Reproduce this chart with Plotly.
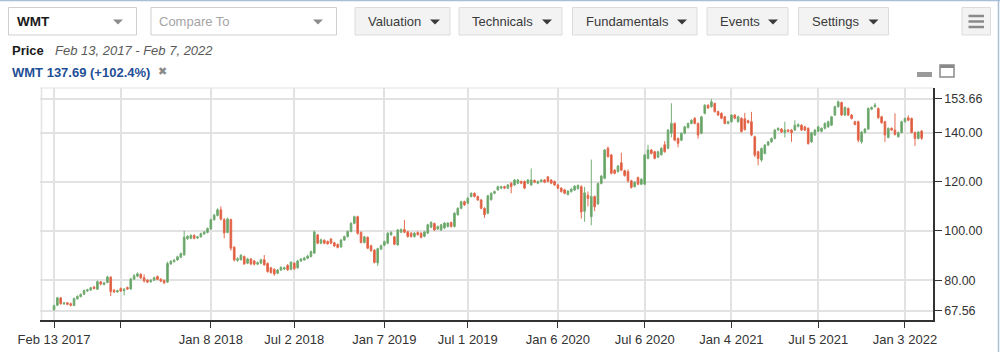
import pandas as pd
import plotly.graph_objects as go

# ---------------- data (weekly candles, WMT, Feb 13 2017 - Feb 7 2022) ----------------
start_week = "2017-02-13"
n_weeks = 261

open_ = [
 68.0, 69.8, 72.8, 70.4, 70.8, 70.4, 69.7, 72.4, 73.3, 74.3, 75.6, 76.0, 77.2, 76.3, 79.3, 78.2, 79.0, 81.2, 75.9, 75.2,
 76.6, 75.7, 77.0, 76.4, 80.4, 81.6, 82.4, 81.0, 80.0, 79.3, 80.0, 81.5, 80.4, 79.9, 79.2, 86.6, 87.5, 88.2, 89.3, 90.3,
 96.8, 97.0, 98.2, 97.1, 97.6, 98.8, 99.4, 100.8, 104.6, 106.3, 108.6, 104.6, 99.4, 104.6, 93.4, 88.0, 88.3, 89.6, 86.9, 88.6,
 87.8, 86.5, 86.9, 88.3, 86.8, 85.0, 84.4, 82.8, 84.1, 84.5, 86.0, 84.4, 86.9, 85.0, 87.8, 88.2, 88.9, 89.6, 91.0, 98.4,
 95.0, 96.2, 95.7, 96.7, 95.2, 94.5, 93.5, 96.3, 97.7, 99.8, 103.1, 105.8, 99.4, 95.3, 97.4, 94.0, 92.2, 87.0, 92.6, 94.2,
 95.0, 98.5, 97.6, 94.3, 99.5, 100.6, 99.7, 99.1, 97.7, 99.4, 99.1, 97.8, 99.1, 101.5, 103.0, 100.8, 100.4, 101.2, 101.8, 103.4,
 101.8, 106.6, 109.2, 111.9, 111.3, 114.0, 115.3, 114.0, 112.6, 109.2, 107.2, 112.7, 115.3, 116.7, 117.4, 118.0, 117.4, 119.4, 118.7, 119.4,
 120.1, 120.1, 119.4, 118.7, 120.5, 119.4, 120.1, 120.7, 122.0, 120.7, 120.1, 118.7, 117.4, 116.7, 114.8, 116.0, 116.6, 117.2, 118.0, 108.0,
 114.5, 105.8, 114.0, 111.0, 119.3, 121.4, 133.6, 130.9, 124.7, 124.1, 127.7, 124.5, 124.1, 120.4, 118.0, 121.7, 119.0, 119.0, 129.5, 132.9,
 132.2, 130.0, 131.0, 135.0, 133.6, 139.7, 143.7, 137.6, 136.9, 139.7, 142.0, 143.7, 145.8, 143.7, 139.7, 147.8, 151.1, 150.5, 151.8, 148.5,
 147.8, 146.4, 143.7, 144.4, 147.1, 144.4, 145.8, 145.6, 144.8, 144.4, 138.3, 132.2, 128.8, 131.5, 134.9, 136.2, 137.6, 141.0, 141.4, 139.9,
 141.0, 141.0, 141.0, 142.5, 143.0, 142.3, 141.7, 136.2, 139.0, 140.5, 140.5, 141.7, 142.3, 143.0, 147.1, 150.5, 152.2, 147.1, 149.8, 147.1,
 144.4, 144.4, 136.2, 140.0, 141.4, 149.5, 150.5, 149.8, 146.4, 144.4, 138.0, 141.7, 141.0, 138.3, 140.0, 144.4, 146.0, 145.7, 140.0, 137.6,
 140.6]

high = [
 70.0, 73.2, 73.0, 71.2, 71.1, 70.9, 72.9, 73.8, 74.6, 76.2, 76.5, 77.3, 77.6, 79.8, 79.6, 79.3, 81.8, 81.6, 76.4, 76.1,
 77.0, 76.8, 77.4, 80.9, 82.5, 83.2, 82.8, 82.3, 80.4, 80.4, 81.4, 81.9, 80.8, 80.2, 87.5, 88.1, 88.6, 89.9, 91.2, 100.1,
 98.3, 98.6, 98.6, 98.0, 99.3, 100.0, 101.4, 105.0, 107.0, 109.2, 109.98, 105.2, 105.4, 105.0, 93.8, 89.3, 90.6, 90.0, 89.1, 89.0,
 88.2, 87.6, 88.7, 90.2, 87.2, 85.4, 84.8, 84.6, 85.6, 85.5, 86.5, 87.7, 87.3, 88.2, 89.0, 89.5, 90.3, 92.0, 100.2, 98.8,
 96.9, 96.6, 96.1, 97.1, 95.6, 94.9, 96.8, 98.1, 100.2, 103.5, 106.2, 106.2, 99.8, 98.0, 97.8, 94.4, 92.6, 93.2, 94.5, 96.1,
 99.5, 99.9, 98.0, 100.8, 101.0, 104.5, 100.1, 99.5, 99.5, 99.8, 99.5, 100.0, 102.9, 103.9, 103.4, 102.2, 102.9, 103.6, 103.6, 103.8,
 107.6, 109.6, 112.3, 112.3, 113.7, 115.7, 115.7, 114.4, 113.0, 109.6, 114.7, 115.7, 116.4, 118.4, 118.4, 118.4, 119.1, 119.8, 121.1, 121.1,
 120.5, 120.5, 121.1, 125.4, 120.9, 120.5, 121.1, 121.1, 122.2, 121.1, 120.5, 119.1, 117.8, 117.1, 116.6, 117.4, 118.6, 118.9, 118.6, 117.9,
 116.0, 129.0, 114.4, 119.7, 122.7, 133.3, 134.3, 131.3, 125.1, 126.8, 131.8, 124.9, 125.0, 120.8, 120.2, 122.1, 121.4, 131.3, 135.0, 133.3,
 132.6, 132.6, 134.0, 136.5, 141.4, 151.9, 144.1, 138.0, 140.1, 142.7, 144.1, 145.4, 146.2, 144.1, 146.8, 151.5, 151.5, 153.66, 152.2, 148.9,
 148.2, 146.8, 144.8, 147.5, 147.5, 146.8, 146.2, 148.0, 145.2, 148.4, 138.7, 132.6, 133.9, 135.3, 136.6, 138.0, 141.4, 142.1, 141.8, 144.4,
 141.4, 141.4, 145.0, 143.7, 143.4, 142.7, 142.1, 140.3, 141.4, 142.7, 142.1, 144.1, 144.8, 146.8, 150.9, 153.0, 152.6, 150.6, 150.2, 147.5,
 144.8, 144.8, 140.6, 141.8, 150.2, 150.6, 152.0, 150.2, 146.8, 144.8, 142.1, 142.1, 147.8, 140.4, 144.8, 146.1, 147.0, 146.1, 140.4, 140.6,
 141.0]

low = [
 67.56, 69.4, 70.0, 69.9, 69.8, 69.3, 69.4, 72.1, 73.0, 74.0, 75.2, 75.6, 76.2, 76.0, 77.9, 77.9, 78.8, 73.5, 74.8, 74.9,
 75.2, 73.8, 76.0, 76.1, 80.1, 81.2, 80.5, 79.0, 78.8, 79.0, 79.7, 80.0, 79.2, 78.4, 78.9, 86.2, 87.1, 87.9, 88.9, 89.9,
 96.4, 96.6, 96.6, 96.7, 97.3, 98.4, 99.0, 100.4, 104.1, 105.9, 104.3, 97.0, 99.0, 92.0, 87.6, 87.5, 88.0, 86.2, 86.5, 86.1,
 86.0, 86.1, 86.5, 85.9, 83.0, 82.6, 81.8, 82.4, 83.7, 84.1, 83.8, 84.0, 84.2, 84.6, 87.4, 87.9, 88.5, 89.2, 90.6, 94.6,
 94.6, 94.6, 94.4, 94.6, 93.5, 92.9, 93.1, 95.9, 97.3, 99.4, 102.7, 98.5, 94.9, 94.9, 92.6, 91.5, 86.8, 85.8, 92.2, 93.8,
 94.6, 98.0, 94.2, 94.0, 99.1, 99.1, 97.3, 97.3, 97.3, 98.1, 97.0, 97.4, 98.8, 101.1, 100.0, 100.4, 100.0, 100.8, 101.4, 101.4,
 101.4, 106.2, 108.8, 110.2, 110.9, 113.6, 113.6, 112.2, 108.8, 105.3, 106.8, 112.3, 114.9, 116.3, 117.0, 117.0, 117.0, 115.3, 118.3, 119.0,
 119.0, 117.0, 119.0, 118.3, 119.4, 119.0, 119.7, 119.4, 119.7, 119.0, 118.3, 117.0, 115.6, 114.9, 114.4, 115.6, 116.2, 116.8, 105.0, 103.7,
 110.0, 102.3, 108.0, 110.6, 118.9, 121.0, 129.8, 123.0, 123.0, 123.7, 124.3, 122.1, 119.6, 117.2, 117.6, 118.6, 118.6, 118.6, 129.1, 131.1,
 129.1, 129.6, 130.6, 131.8, 133.2, 138.0, 136.5, 134.0, 136.5, 139.3, 141.6, 143.3, 143.3, 137.5, 139.3, 147.4, 149.6, 150.1, 148.1, 146.7,
 145.4, 143.3, 143.3, 144.0, 145.4, 144.0, 140.0, 140.8, 143.6, 138.5, 130.0, 126.7, 128.1, 131.1, 134.5, 135.8, 137.2, 140.6, 139.8, 138.0,
 140.1, 136.2, 140.6, 142.1, 140.6, 140.6, 135.1, 135.8, 138.6, 140.1, 140.1, 141.3, 141.9, 142.6, 146.7, 150.1, 146.7, 146.7, 146.7, 145.3,
 142.9, 136.0, 135.5, 139.6, 141.0, 149.1, 150.1, 145.6, 143.6, 136.2, 137.6, 140.6, 138.8, 137.9, 139.6, 144.0, 144.6, 139.6, 134.6, 137.2,
 137.0]

close = [
 69.6, 72.8, 70.4, 70.7, 70.2, 69.8, 72.5, 73.4, 74.2, 75.8, 76.1, 76.9, 76.6, 79.4, 78.4, 78.9, 81.3, 75.3, 75.2, 75.7,
 75.6, 76.3, 76.4, 80.5, 81.8, 82.6, 80.9, 79.7, 79.2, 80.0, 81.0, 80.3, 79.6, 78.9, 86.8, 87.7, 88.1, 89.5, 90.8, 97.5,
 97.8, 98.2, 97.0, 97.6, 98.9, 99.6, 101.0, 104.6, 106.4, 108.6, 104.8, 99.2, 104.9, 93.0, 88.2, 88.7, 90.1, 86.6, 88.6, 86.6,
 86.5, 87.1, 88.3, 86.2, 83.5, 83.1, 82.5, 84.1, 85.2, 85.0, 84.2, 87.3, 84.6, 87.8, 88.6, 89.0, 89.8, 91.6, 99.6, 95.0,
 96.4, 95.0, 94.8, 95.0, 93.9, 93.3, 96.3, 97.7, 99.8, 103.1, 105.8, 99.0, 95.3, 97.6, 93.0, 92.0, 87.2, 92.8, 94.0, 95.7,
 99.1, 99.4, 94.6, 100.4, 100.6, 99.5, 97.7, 97.7, 99.1, 98.5, 97.4, 99.6, 102.5, 103.5, 100.4, 101.8, 102.5, 103.2, 103.2, 101.8,
 107.2, 109.2, 111.9, 110.6, 113.3, 115.3, 114.0, 112.6, 109.2, 106.6, 114.3, 115.3, 116.0, 118.0, 118.0, 117.4, 118.7, 118.0, 120.7, 120.7,
 119.4, 117.4, 120.7, 120.7, 119.8, 120.1, 120.7, 119.8, 120.1, 119.4, 118.7, 117.4, 116.0, 115.3, 116.2, 117.0, 118.2, 118.5, 107.7, 115.5,
 113.2, 114.0, 109.8, 119.3, 122.3, 132.9, 130.2, 123.4, 123.4, 126.4, 124.7, 122.5, 120.4, 117.7, 119.8, 119.0, 121.0, 130.9, 132.9, 131.5,
 129.5, 132.2, 133.6, 132.2, 141.0, 143.7, 136.9, 135.6, 139.7, 142.3, 143.7, 145.0, 143.7, 139.0, 146.4, 151.1, 150.0, 152.5, 148.5, 147.1,
 145.8, 143.7, 144.4, 147.1, 145.8, 146.4, 140.4, 141.2, 144.0, 139.0, 130.8, 129.4, 133.5, 134.9, 136.2, 137.6, 141.0, 141.7, 140.2, 141.0,
 140.5, 139.9, 143.0, 143.3, 141.0, 141.0, 135.5, 139.9, 141.0, 142.3, 141.7, 143.7, 144.4, 146.4, 150.5, 152.5, 147.1, 150.2, 147.1, 145.7,
 143.3, 136.9, 140.2, 141.4, 149.8, 150.2, 151.2, 146.0, 144.0, 139.0, 141.7, 141.0, 139.2, 140.0, 144.4, 145.7, 145.0, 140.0, 137.6, 140.2,
 137.69]

x_tick_dates = ["2017-02-13", "2017-07-03", "2018-01-08", "2018-07-02", "2019-01-07", "2019-07-01",
                "2020-01-06", "2020-07-06", "2021-01-04", "2021-07-05", "2022-01-03"]
x_tick_text = ["Feb 13 2017", "", "Jan 8 2018", "Jul 2 2018", "Jan 7 2019", "Jul 1 2019",
               "Jan 6 2020", "Jul 6 2020", "Jan 4 2021", "Jul 5 2021", "Jan 3 2022"]
y_tick_vals = [67.56, 80, 100, 120, 140, 153.66]
y_tick_text = ["67.56", "80.00", "100.00", "120.00", "140.00", "153.66"]

dates = pd.date_range(start_week, periods=n_weeks, freq="7D")

# ---------------- layout geometry (pixels) ----------------
W, H = 1000, 352
PL, PR, PT, PB = 40, 933, 88, 320
FONT = "Liberation Sans, Arial, Helvetica, sans-serif"


def px(x):
    return (x - PL) / (PR - PL)


def py(y):
    return (PB - y) / (PB - PT)


fig = go.Figure()
fig.add_trace(go.Candlestick(
    x=dates, open=open_, high=high, low=low, close=close,
    increasing=dict(line=dict(color="#74ad74", width=1), fillcolor="#5e9e5e"),
    decreasing=dict(line=dict(color="#e46b4f", width=1), fillcolor="#dc5134"),
    hoverinfo="skip", showlegend=False,
))

s0 = pd.Timestamp(start_week)
x_range = [s0 - pd.Timedelta(days=7 * 4.2), s0 + pd.Timedelta(days=7 * 263.4)]

shapes = []
annotations = []


def rect(x0, y0, x1, y1, fill, line, lw=1):
    shapes.append(dict(type="rect", xref="paper", yref="paper", x0=px(x0), x1=px(x1), y0=py(y1), y1=py(y0),
                       fillcolor=fill, line=dict(color=line, width=lw), layer="above"))


def tri(xc, yc, w, h, color):
    path = "M {} {} L {} {} L {} {} Z".format(px(xc - w / 2), py(yc - h / 2), px(xc + w / 2), py(yc - h / 2),
                                             px(xc), py(yc + h / 2))
    shapes.append(dict(type="path", xref="paper", yref="paper", path=path, fillcolor=color,
                       line=dict(color=color, width=0), layer="above"))


def line(x0, y0, x1, y1, color, lw=1):
    shapes.append(dict(type="line", xref="paper", yref="paper", x0=px(x0), x1=px(x1), y0=py(y0), y1=py(y1),
                       line=dict(color=color, width=lw), layer="above"))


def text(x, y, s, size=13, color="#333", bold=False, italic=False, anchor="left"):
    t = "<b>" + s + "</b>" if bold else s
    t = "<i>" + t + "</i>" if italic else t
    annotations.append(dict(xref="paper", yref="paper", x=px(x), y=py(y), text=t, showarrow=False,
                            xanchor=anchor, yanchor="middle", font=dict(family=FONT, size=size, color=color)))


# page edges
line(0, 0.5, 1000, 0.5, "#a9bfd8", 1.5)
line(998.5, 0, 998.5, 352, "#a9bfd8", 1.5)

# plot frame (light)
line(PL, PT, PR, PT, "#e2e2e2", 1)
line(PL + 1.5, PT, PL + 1.5, PB, "#e2e2e2", 1.5)

# dropdowns
rect(8.5, 7.5, 136.5, 35, "#ffffff", "#cfcfcf")
text(15, 22, "WMT", 13.5, "#1a1a1a", bold=True)
tri(118, 22, 10, 5, "#8c8c8c")
rect(151, 7.5, 336.5, 35, "#ffffff", "#cfcfcf")
text(157, 22, "Compare To", 13, "#a5a5a5")
tri(318, 22, 10, 5, "#8c8c8c")

# buttons
buttons = [("Valuation", 355, 450), ("Technicals", 459, 562), ("Fundamentals", 572.5, 697),
           ("Events", 707, 788), ("Settings", 798.5, 888.5)]
for label, bx0, bx1 in buttons:
    rect(bx0, 7.5, bx1, 35, "#f3f3f3", "#dcdcdc")
    text(bx0 + 11, 21.5, label, 13, "#3a3a3a")
    tri(bx1 - 15, 22, 10, 5, "#3a3a3a")

# menu button
rect(962, 7.5, 990.5, 35, "#f3f3f3", "#dcdcdc")
for yy in (16, 21.5, 27):
    line(968.5, yy, 984, yy, "#8a8a8a", 2.5)

# headings
text(10, 51, "Price", 13, "#1a1a1a", bold=True)
text(53, 51, "Feb 13, 2017 - Feb 7, 2022", 13, "#5a5a5a", italic=True)
text(10, 73, "WMT 137.69 (+102.4%)", 13, "#1f4f96", bold=True)
text(156, 71, "✖", 11, "#8a8a8a")

# minimize / maximize icons
shapes.append(dict(type="rect", xref="paper", yref="paper", x0=px(917), x1=px(932), y0=py(77), y1=py(72),
                   fillcolor="#9a9a9a", line=dict(color="#9a9a9a", width=0), layer="above"))
rect(940, 65, 954, 77, "#ffffff", "#8a8a8a", 1.5)
line(940, 66.5, 954, 66.5, "#8a8a8a", 3)

fig.update_layout(
    width=W, height=H,
    margin=dict(l=PL, r=W - PR, t=PT, b=H - PB, pad=0, autoexpand=False),
    paper_bgcolor="white", plot_bgcolor="white",
    font=dict(family=FONT, size=13, color="#333"),
    showlegend=False,
    shapes=shapes, annotations=annotations,
    xaxis=dict(
        type="date", range=x_range, rangeslider=dict(visible=False),
        tickvals=x_tick_dates, ticktext=x_tick_text,
        showgrid=True, gridcolor="#e2e2e2", gridwidth=1.5,
        showline=True, linecolor="#333", linewidth=1.5,
        ticks="outside", ticklen=6, tickcolor="#333", tickwidth=1,
        ticklabelstandoff=1, automargin=False,
        tickfont=dict(family=FONT, size=13, color="#333"),
        zeroline=False, fixedrange=True,
    ),
    yaxis=dict(
        side="right", range=[63.8, 158.1],
        tickvals=y_tick_vals, ticktext=y_tick_text,
        showgrid=True, gridcolor="#e2e2e2", gridwidth=1.5,
        showline=True, linecolor="#333", linewidth=1.5,
        ticks="outside", ticklen=7, tickcolor="#333", tickwidth=1,
        automargin=False,
        tickfont=dict(family=FONT, size=12.5, color="#333"),
        zeroline=False, fixedrange=True,
    ),
)

fig.write_html("out.html", include_plotlyjs=True, config={"displayModeBar": False})
